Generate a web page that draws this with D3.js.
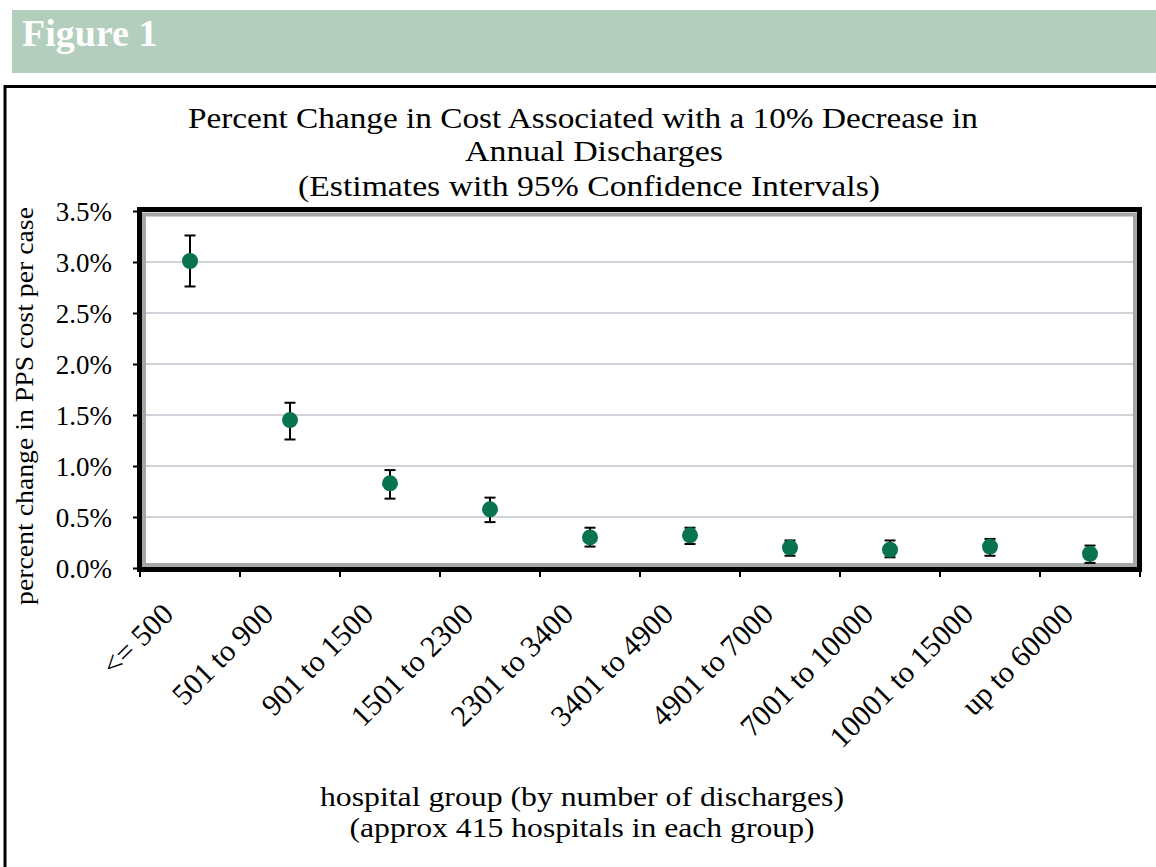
<!DOCTYPE html>
<html>
<head>
<meta charset="utf-8">
<script src="https://cdn.jsdelivr.net/npm/d3@7"></script>
<style>
  body { margin: 0; background: #fff; }
  svg { display: block; font-family: "Liberation Serif", "DejaVu Serif", serif; }
</style>
</head>
<body>
<svg width="1156" height="867"></svg>
<script>
// hospital groups (by number of discharges)
const groups = ["<= 500", "501 to 900", "901 to 1500", "1501 to 2300", "2301 to 3400",
                "3401 to 4900", "4901 to 7000", "7001 to 10000", "10001 to 15000", "up to 60000"];
// percent change estimates and 95% CI bounds
const estimate = [3.01, 1.45, 0.83, 0.575, 0.30, 0.32, 0.20, 0.18, 0.21, 0.14];
const lower    = [2.76, 1.26, 0.68, 0.45, 0.21, 0.235, 0.12, 0.105, 0.12, 0.05];
const upper    = [3.26, 1.62, 0.96, 0.69, 0.395, 0.395, 0.27, 0.27, 0.285, 0.22];
const yTicks   = [0, 0.5, 1.0, 1.5, 2.0, 2.5, 3.0, 3.5];

const svg = d3.select("svg");

// header band
svg.append("rect").attr("x", 12).attr("y", 10).attr("width", 1150).attr("height", 63)
    .attr("fill", "#b4cebd");
svg.append("text").attr("x", 22).attr("y", 46)
    .attr("font-size", 38).attr("font-weight", "bold").attr("fill", "#fff")
    .text("Figure 1");

// chart box
svg.append("rect").attr("x", 5).attr("y", 86.5).attr("width", 1170).attr("height", 800)
    .attr("fill", "none").attr("stroke", "#000").attr("stroke-width", 3);

const x = d3.scaleBand().domain(groups).range([140, 1140]);
const y = d3.scaleLinear().domain([0, 3.5]).range([568, 211]);

// gridlines
svg.append("g")
    .selectAll("line")
    .data(yTicks.filter(d => d > 0 && d < 3.5))
    .join("line")
    .attr("x1", 144).attr("x2", 1135)
    .attr("y1", d => y(d)).attr("y2", d => y(d))
    .attr("stroke", "#d2d2da").attr("stroke-width", 2);

// plot frame: gray inner band and thick black outer border
svg.append("rect").attr("x", 144).attr("y", 214.5).attr("width", 991).attr("height", 350.5)
    .attr("fill", "none").attr("stroke", "#a6a6a6").attr("stroke-width", 4);
svg.append("rect").attr("x", 139.5).attr("y", 209.5).attr("width", 1000).attr("height", 360)
    .attr("fill", "none").attr("stroke", "#000").attr("stroke-width", 5);

// y axis
const yAxis = svg.append("g")
    .attr("transform", "translate(137,0)")
    .call(d3.axisLeft(y).tickValues(yTicks).tickFormat(d => d.toFixed(1) + "%")
        .tickSize(4).tickPadding(21));
yAxis.select(".domain").remove();
yAxis.selectAll(".tick line").attr("stroke", "#000").attr("stroke-width", 2);
yAxis.selectAll(".tick text")
    .attr("font-family", "Liberation Serif, serif").attr("font-size", 27)
    .attr("fill", "#000").attr("dy", "0.35em");

// x boundary ticks
svg.append("g")
    .selectAll("line")
    .data(groups.map(d => x(d)).concat([x.range()[1]]))
    .join("line")
    .attr("x1", d => d).attr("x2", d => d)
    .attr("y1", 572).attr("y2", 577)
    .attr("stroke", "#000").attr("stroke-width", 2);

// x labels
svg.append("g")
    .selectAll("text")
    .data(groups)
    .join("text")
    .attr("transform", d => `translate(${x(d) + x.bandwidth() / 2 - 15},616) rotate(-45)`)
    .attr("text-anchor", "end")
    .attr("font-size", 30)
    .text(d => d);

// error bars
const bars = svg.append("g").attr("stroke", "#000").attr("stroke-width", 2);
groups.forEach((g, i) => {
    const cx = x(g) + x.bandwidth() / 2;
    bars.append("line").attr("x1", cx).attr("x2", cx).attr("y1", y(lower[i])).attr("y2", y(upper[i]));
    bars.append("line").attr("x1", cx - 5.5).attr("x2", cx + 5.5).attr("y1", y(lower[i])).attr("y2", y(lower[i]));
    bars.append("line").attr("x1", cx - 5.5).attr("x2", cx + 5.5).attr("y1", y(upper[i])).attr("y2", y(upper[i]));
});

// points
svg.append("g")
    .selectAll("circle")
    .data(groups)
    .join("circle")
    .attr("cx", d => x(d) + x.bandwidth() / 2)
    .attr("cy", (d, i) => y(estimate[i]))
    .attr("r", 8)
    .attr("fill", "#08744f");

// title
const titleLines = [
    { t: "Percent Change in Cost Associated with a 10% Decrease in", cx: 583, y: 128, w: 790 },
    { t: "Annual Discharges", cx: 594, y: 161, w: 258 },
    { t: "(Estimates with 95% Confidence Intervals)", cx: 589, y: 196, w: 582 }
];
svg.append("g").selectAll("text").data(titleLines).join("text")
    .attr("x", d => d.cx).attr("y", d => d.y)
    .attr("text-anchor", "middle").attr("font-size", 30)
    .attr("textLength", d => d.w).attr("lengthAdjust", "spacingAndGlyphs")
    .text(d => d.t);

// x axis title
const xTitle = [
    { t: "hospital group (by number of discharges)", cx: 582, y: 806, w: 524 },
    { t: "(approx 415 hospitals in each group)", cx: 582, y: 837, w: 465 }
];
svg.append("g").selectAll("text").data(xTitle).join("text")
    .attr("x", d => d.cx).attr("y", d => d.y)
    .attr("text-anchor", "middle").attr("font-size", 27)
    .attr("textLength", d => d.w).attr("lengthAdjust", "spacingAndGlyphs")
    .text(d => d.t);

// y axis title
svg.append("text")
    .attr("transform", "translate(33,406) rotate(-90)")
    .attr("text-anchor", "middle").attr("font-size", 25)
    .attr("textLength", 398).attr("lengthAdjust", "spacingAndGlyphs")
    .text("percent change in PPS cost per case");
</script>
</body>
</html>
